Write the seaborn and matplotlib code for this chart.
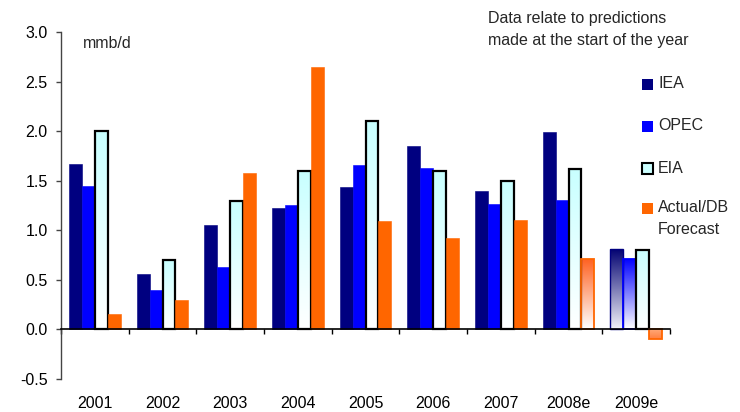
import numpy as np
import pandas as pd
import matplotlib
matplotlib.use("Agg")
import matplotlib.pyplot as plt
import seaborn as sns
from matplotlib.colors import to_rgb
from matplotlib.patches import Rectangle

# ---- data ----
years = ["2001", "2002", "2003", "2004", "2005", "2006", "2007", "2008e", "2009e"]
iea = [1.67, 0.56, 1.05, 1.22, 1.44, 1.85, 1.40, 1.99, 0.81]
opec = [1.45, 0.40, 0.63, 1.26, 1.66, 1.63, 1.27, 1.31, 0.71]
eia = [2.00, 0.70, 1.30, 1.60, 2.10, 1.60, 1.50, 1.62, 0.80]
actual = [0.16, 0.30, 1.58, 2.65, 1.09, 0.92, 1.10, 0.71, -0.10]
series = ["IEA", "OPEC", "EIA", "Actual/DB Forecast"]
yticks = [-0.5, 0.0, 0.5, 1.0, 1.5, 2.0, 2.5, 3.0]

df = pd.DataFrame({
    "year": years * 4,
    "series": np.repeat(series, len(years)),
    "value": iea + opec + eia + actual,
})

sns.set_theme(style="white")
plt.rcParams['font.family'] = ['Liberation Sans', 'DejaVu Sans']
plt.rcParams['axes.unicode_minus'] = False
FS = 11.5

W, H = 740, 412
fig = plt.figure(figsize=(W / 100, H / 100), dpi=100)
ax = fig.add_axes([61 / W, 1 - 379 / H, (670 - 61) / W, (379 - 32) / H])

palette = {"IEA": "#000080", "OPEC": "#0000FF", "EIA": "#CCFFFF",
           "Actual/DB Forecast": "#FF6600"}
sns.barplot(data=df, x="year", y="value", hue="series", hue_order=series,
            order=years, palette=palette, width=0.76, ax=ax, legend=False,
            saturation=1, linewidth=0, errorbar=None)


def gradient(patch, top, bottom, edge, lw):
    x, y = patch.get_x(), patch.get_y()
    w, h = patch.get_width(), patch.get_height()
    y0, y1 = min(y, y + h), max(y, y + h)
    n = 256
    t = np.linspace(0, 1, n)
    tc, bc = np.array(to_rgb(top)), np.array(to_rgb(bottom))
    img = bc[None, :] + (tc - bc)[None, :] * t[:, None]
    img = img[:, None, :]
    im = ax.imshow(img, extent=[x, x + w, y0, y1], origin='lower',
                   aspect='auto', interpolation='bilinear',
                   zorder=patch.get_zorder() - 0.1)
    im.set_clip_path(patch)
    patch.set_facecolor('none')
    patch.set_edgecolor(edge)
    patch.set_linewidth(lw)


cont = ax.containers
# thin outline for solid bars
for ci in (0, 1, 3):
    for p in cont[ci]:
        p.set_edgecolor(p.get_facecolor())
        p.set_linewidth(0.4)
# EIA bars: cyan-to-white gradient with black edge
for p in cont[2]:
    gradient(p, "#C8FFFF", "#FFFFFF", "black", 1.6)
# forecast bars
gradient(cont[3][7], "#FF6020", "#FFFFFF", "#FF6600", 1.3)
gradient(cont[0][8], "#000070", "#F4F4FA", "#000080", 1.0)
gradient(cont[1][8], "#0000FF", "#FFFFFF", "#0000FF", 1.3)
gradient(cont[3][8], "#FFA878", "#FF8040", "#FF6600", 1.3)

ax.set_xlim(-0.5, len(years) - 0.5)
ax.set_ylim(-0.5, 3.0)
ax.set_xlabel("")
ax.set_ylabel("")

# axes styling
for s in ("top", "right"):
    ax.spines[s].set_visible(False)
ax.spines["bottom"].set_position(("data", 0))
ax.spines["bottom"].set_color("black")
ax.spines["bottom"].set_linewidth(1.2)
ax.spines["left"].set_color("#444444")
ax.spines["left"].set_linewidth(1.0)

ax.set_yticks(yticks)
ax.set_yticklabels([f"{v:.1f}" for v in yticks])
ax.tick_params(axis='y', direction='out', length=3.6, width=1,
               left=True, color="#444444", labelsize=FS, pad=6,
               labelcolor="black")
ax.set_xticks(np.arange(-0.5, len(years), 1.0), minor=True)
ax.tick_params(axis='x', which='major', length=0, labelsize=FS, pad=48,
               labelcolor="black")
ax.tick_params(axis='x', which='minor', direction='out', length=3.6,
               width=1, bottom=True, color="black")
ax.grid(False)

# annotations
fig.text(83 / W, 1 - 43 / H, "mmb/d", fontsize=FS, va='center', ha='left')
fig.text(488 / W, 1 - 18 / H, "Data relate to predictions", fontsize=FS,
         va='center', ha='left')
fig.text(488 / W, 1 - 40 / H, "made at the start of the year", fontsize=FS,
         va='center', ha='left')

# legend (drawn manually)
leg = [("IEA", "#000080", "#000080", 84),
       ("OPEC", "#0000FF", "#0000FF", 126),
       ("EIA", "#CCFFFF", "black", 168),
       ("Actual/DB", "#FF6600", "#FF6600", 208)]
for lab, fc, ec, yc in leg:
    lw = 1.5 if lab == "EIA" else 0.0
    fig.add_artist(Rectangle((642 / W, 1 - (yc + 5.5) / H), 11 / W, 11 / H,
                             transform=fig.transFigure, facecolor=fc,
                             edgecolor=ec, linewidth=lw))
    fig.text(658 / W, 1 - yc / H, lab, fontsize=FS, va='center', ha='left')
fig.text(658 / W, 1 - 229 / H, "Forecast", fontsize=FS, va='center', ha='left')

fig.savefig("out.png", dpi=100, facecolor="white")
